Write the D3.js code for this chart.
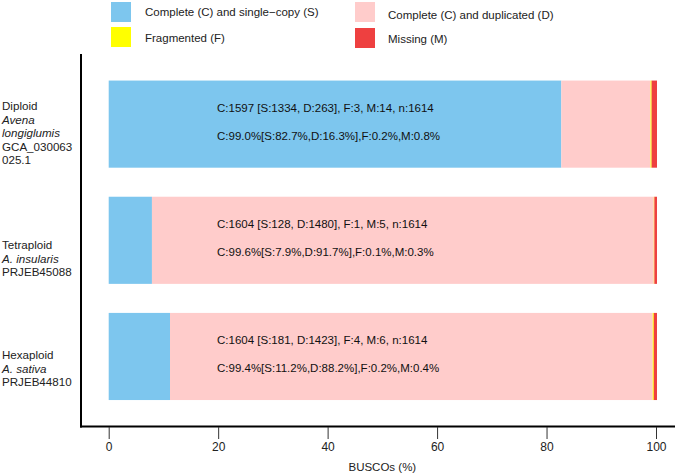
<!DOCTYPE html>
<html><head><meta charset="utf-8">
<script src="https://cdn.jsdelivr.net/npm/d3@7"></script>
<style>body{margin:0;background:#fff;} svg{display:block;font-family:"Liberation Sans",Arial,sans-serif;}</style>
</head><body>
<script>
const categories = ["Diploid", "Tetraploid", "Hexaploid"];
const labelLines = [
  [["Diploid", false], ["Avena", true], ["longiglumis", true], ["GCA_030063", false], ["025.1", false]],
  [["Tetraploid", false], ["A. insularis", true], ["PRJEB45088", false]],
  [["Hexaploid", false], ["A. sativa", true], ["PRJEB44810", false]]
];
const singleCopy = [82.7, 7.9, 11.2];
const duplicated = [16.3, 91.7, 88.2];
const fragmented = [0.2, 0.1, 0.2];
const missing = [0.8, 0.3, 0.4];
const countText = ["C:1597 [S:1334, D:263], F:3, M:14, n:1614", "C:1604 [S:128, D:1480], F:1, M:5, n:1614", "C:1604 [S:181, D:1423], F:4, M:6, n:1614"];
const pctText = ["C:99.0%[S:82.7%,D:16.3%],F:0.2%,M:0.8%", "C:99.6%[S:7.9%,D:91.7%],F:0.1%,M:0.3%", "C:99.4%[S:11.2%,D:88.2%],F:0.2%,M:0.4%"];
const seriesNames = ["Complete (C) and single\u2212copy (S)", "Complete (C) and duplicated (D)", "Fragmented (F)", "Missing (M)"];
const seriesKeys = ["S", "D", "F", "M"];
const colors = ["#7DC6EE", "#FFCCCB", "#FFFF00", "#EE4040"];
const xTicks = [0, 20, 40, 60, 80, 100];

const W = 675, H = 475;
const svg = d3.select("body").append("svg").attr("width", W).attr("height", H);

const x = d3.scaleLinear().domain([0, 100]).range([108.7, 656]);
const y = d3.scaleBand().domain(categories).range([55, 425.6]).paddingInner(0.25).paddingOuter(0.22);

const rows = categories.map((c, i) => ({cat: c, S: singleCopy[i], D: duplicated[i], F: fragmented[i], M: missing[i]}));
const stack = d3.stack().keys(seriesKeys)(rows);

stack.forEach((layer, k) => {
  svg.append("g").selectAll("rect").data(layer).join("rect")
    .attr("x", d => x(d[0]))
    .attr("width", d => Math.max(0, x(d[1]) - x(d[0])) + (k === 3 ? 1 : 0))
    .attr("y", d => y(d.data.cat))
    .attr("height", y.bandwidth())
    .attr("fill", colors[k]);
});

// texts in bars
categories.forEach((c, i) => {
  const top = y(c);
  svg.append("text").attr("x", 217).attr("y", top + 31).attr("font-size", 11.5).attr("fill", "#111").text(countText[i]);
  svg.append("text").attr("x", 217).attr("y", top + 59).attr("font-size", 11.5).attr("fill", "#111").text(pctText[i]);
});

// Axes lines
svg.append("line").attr("x1", 81).attr("x2", 81).attr("y1", 54).attr("y2", 427.5).attr("stroke", "#000").attr("stroke-width", 2);
svg.append("line").attr("x1", 80).attr("x2", 675).attr("y1", 426.5).attr("y2", 426.5).attr("stroke", "#000").attr("stroke-width", 2);

const xAxis = d3.axisBottom(x).tickValues(xTicks).tickSize(12).tickPadding(3).tickFormat(d3.format("d"));
const gx = svg.append("g").attr("transform", "translate(0,427)").call(xAxis);
gx.select(".domain").remove();
gx.selectAll(".tick line").attr("stroke", "#333");
gx.selectAll(".tick text").attr("font-size", 12).attr("fill", "#222").attr("font-family", "Liberation Sans, Arial, sans-serif");

svg.append("text").attr("x", x(50)).attr("y", 471).attr("text-anchor", "middle").attr("font-size", 11.5).attr("fill", "#222").text("BUSCOs (%)");

// Y labels (baseline offsets relative to band centre)
const labelOffsets = [[-14, -0.5, 13, 26.5, 40], [9, 22.5, 36], [3, 16.5, 30]];
categories.forEach((c, i) => {
  const cy = y(c) + y.bandwidth() / 2;
  labelLines[i].forEach((ln, j) => {
    svg.append("text").attr("x", 2).attr("y", cy + labelOffsets[i][j])
      .attr("font-size", 11.6).attr("fill", "#222")
      .attr("font-style", ln[1] ? "italic" : "normal")
      .text(ln[0]);
  });
});

// legend
const legPos = [[111, 2, 145, 16], [355, 2, 388, 19], [111, 27, 145, 42], [355, 28, 388, 43]];
seriesNames.forEach((n, k) => {
  const p = legPos[k];
  svg.append("rect").attr("x", p[0]).attr("y", p[1]).attr("width", 20).attr("height", 20).attr("fill", colors[k]);
  svg.append("text").attr("x", p[2]).attr("y", p[3]).attr("font-size", 11.5).attr("fill", "#222").text(n);
});
</script>
</body></html>
